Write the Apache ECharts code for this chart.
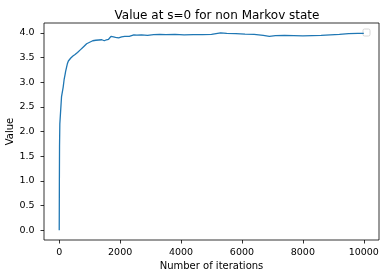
<!DOCTYPE html>
<html>
<head>
<meta charset="utf-8">
<script src="https://cdn.jsdelivr.net/npm/echarts@6/dist/echarts.min.js"></script>
<style>html,body{margin:0;padding:0;background:#fff}#c{width:386px;height:278px}</style>
</head>
<body>
<div id="c"></div>
<script>
const titleText = "Value at s=0 for non Markov state";
const xLabel = "Number of iterations";
const yLabel = "Value";
const xTicks = [0, 2000, 4000, 6000, 8000, 10000];
const yTicks = [0, 0.5, 1.0, 1.5, 2.0, 2.5, 3.0, 3.5, 4.0];
const iterations = [0,5,10,20,40,60,75,85,100,130,160,190,210,240,270,300,340,380,450,520,600,700,800,900,1000,1100,1200,1300,1400,1480,1550,1620,1700,1780,1850,1950,2050,2150,2300,2450,2550,2700,2900,3100,3300,3500,3800,4100,4400,4700,5000,5200,5300,5500,5800,6100,6400,6700,6900,7100,7400,7700,8000,8300,8600,8900,9200,9500,9800,10000];
const values = [0,1.0,1.7,2.16,2.14,2.17,2.7,2.69,2.72,2.9,3.05,3.15,3.22,3.3,3.38,3.43,3.46,3.49,3.53,3.56,3.6,3.66,3.72,3.78,3.81,3.84,3.85,3.855,3.86,3.84,3.86,3.87,3.93,3.92,3.91,3.9,3.92,3.93,3.93,3.96,3.955,3.96,3.95,3.965,3.97,3.965,3.97,3.96,3.965,3.965,3.97,3.99,4.0,3.99,3.985,3.975,3.97,3.95,3.93,3.945,3.95,3.945,3.94,3.945,3.95,3.96,3.97,3.985,3.99,3.99];

const chart = echarts.init(document.getElementById('c'), null, {renderer: 'canvas'});
const font = 'DejaVu Sans';
chart.setOption({
  animation: false,
  backgroundColor: '#fff',
  title: {
    text: titleText, left: 212, textAlign: 'center', top: 5,
    textStyle: {fontFamily: font, fontSize: 12, fontWeight: 'normal', color: '#000'}
  },
  grid: {left: 44, right: 7, top: 23, bottom: 38, show: true, borderColor: '#000', borderWidth: 0.8,
    backgroundColor: 'transparent', containLabel: false, outerBoundsMode: 'none'},
  xAxis: {
    type: 'value', min: -500, max: 10500,
    name: xLabel, nameLocation: 'middle', nameGap: 21, nameMoveOverlap: false,
    nameTextStyle: {fontFamily: font, fontSize: 10, color: '#000'},
    axisLine: {show: false, onZero: false},
    splitLine: {show: false},
    axisTick: {show: true, inside: false, length: 3.5, lineStyle: {color: '#000', width: 0.8}, customValues: xTicks},
    axisLabel: {customValues: xTicks, fontFamily: font, fontSize: 9.5, color: '#000', margin: 8,
      formatter: v => String(v)}
  },
  yAxis: {
    type: 'value', min: -0.2, max: 4.2,
    name: yLabel, nameLocation: 'middle', nameGap: 29, nameRotate: 90, nameMoveOverlap: false,
    nameTextStyle: {fontFamily: font, fontSize: 10, color: '#000'},
    axisLine: {show: false, onZero: false},
    splitLine: {show: false},
    axisTick: {show: true, inside: false, length: 3.5, lineStyle: {color: '#000', width: 0.8}, customValues: yTicks},
    axisLabel: {customValues: yTicks, fontFamily: font, fontSize: 9.5, color: '#000', margin: 9.5,
      formatter: v => v.toFixed(1)}
  },
  graphic: [{
    type: 'rect', shape: {x: 363, y: 29, width: 7, height: 7, r: 1.5},
    style: {fill: '#fff', stroke: '#ccc', lineWidth: 0.8}
  }],
  series: [{
    type: 'line', data: iterations.map((x, i) => [x, values[i]]),
    showSymbol: false, symbol: 'none',
    lineStyle: {color: '#1f77b4', width: 1.3}
  }]
});
</script>
</body>
</html>
